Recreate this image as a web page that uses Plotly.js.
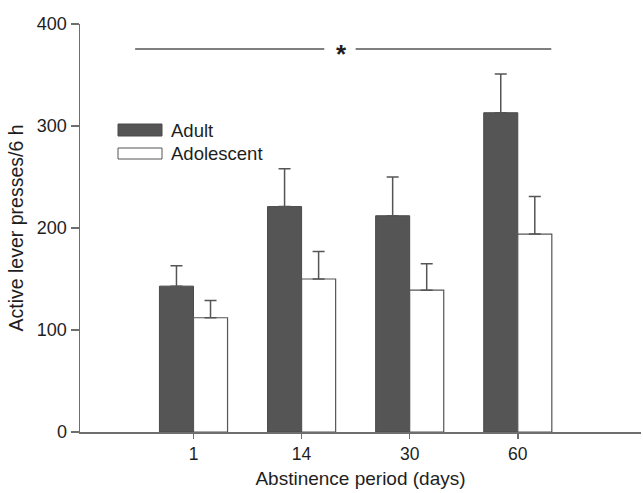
<!DOCTYPE html>
<html>
<head>
<meta charset="utf-8">
<script src="https://cdn.plot.ly/plotly-3.0.1.min.js"></script>
<style>html,body{margin:0;padding:0;background:#fff;}#chart{width:643px;height:493px;}</style>
</head>
<body>
<div id="chart"></div>
<script>
const categories = ["1", "14", "30", "60"];
const adultValues = [143, 221, 212, 313];
const adultErrors = [20, 37, 38, 38];
const adolescentValues = [112, 150, 139, 194];
const adolescentErrors = [17, 27, 26, 37];
const seriesNames = ["Adult", "Adolescent"];
const yTicks = [0, 100, 200, 300, 400];

const axisColor = "#6e6e6e";
const dark = "#555555";
const font = "Liberation Sans, Arial, sans-serif";
const txt = "#1e1e1e";

const traces = [
  {
    type: "bar", name: seriesNames[0], x: categories, y: adultValues,
    marker: {color: dark, line: {color: "#4a4a4a", width: 1}},
    error_y: {type: "data", symmetric: false, array: adultErrors, arrayminus: adultErrors.map(() => 0), color: "#555", thickness: 1.5, width: 6}
  },
  {
    type: "bar", name: seriesNames[1], x: categories, y: adolescentValues,
    marker: {color: "#ffffff", line: {color: "#555", width: 1.2}},
    error_y: {type: "data", symmetric: false, array: adolescentErrors, arrayminus: adolescentErrors.map(() => 0), color: "#555", thickness: 1.5, width: 6}
  }
];

const layout = {
  width: 643, height: 493,
  margin: {l: 80, r: 2, t: 24, b: 61},
  paper_bgcolor: "#fff", plot_bgcolor: "#fff",
  showlegend: false,
  barmode: "group", bargap: 0.37, bargroupgap: 0,
  font: {family: font, size: 17, color: txt},
  xaxis: {
    type: "category", range: [-1.05, 4.14],
    showline: true, linecolor: axisColor, linewidth: 1.5,
    ticks: "outside", ticklen: 5, tickwidth: 1.5, tickcolor: axisColor,
    showgrid: false, zeroline: false,
    tickfont: {family: font, size: 17.5, color: txt},
    title: {text: "Abstinence period (days)", font: {family: font, size: 19, color: txt}, standoff: 9}
  },
  yaxis: {
    range: [0, 400], tickvals: yTicks,
    showline: true, linecolor: axisColor, linewidth: 1.5,
    ticks: "outside", ticklen: 8, tickwidth: 1.5, tickcolor: axisColor,
    showgrid: false, zeroline: false,
    tickfont: {family: font, size: 18, color: txt},
    title: {text: "Active lever presses/6 h", font: {family: font, size: 19.5, color: txt}, standoff: 8}
  },
  shapes: [
    {type: "line", xref: "x", yref: "y", x0: -0.54, x1: 1.21, y0: 375.5, y1: 375.5, line: {color: "#555", width: 1.3}},
    {type: "line", xref: "x", yref: "y", x0: 1.50, x1: 3.31, y0: 375.5, y1: 375.5, line: {color: "#555", width: 1.3}},
    {type: "rect", xref: "paper", yref: "paper", x0: (118-80)/561, x1: (162-80)/561, y0: (432-136)/408, y1: (432-124)/408, fillcolor: dark, line: {color: "#4a4a4a", width: 1}},
    {type: "rect", xref: "paper", yref: "paper", x0: (118-80)/561, x1: (162-80)/561, y0: (432-159)/408, y1: (432-148)/408, fillcolor: "#fff", line: {color: "#555", width: 1}}
  ],
  annotations: [
    {xref: "x", yref: "y", x: 1.37, y: 375.5, text: "<b>*</b>", showarrow: false, font: {family: font, size: 26, color: txt}, yshift: -5},
    {xref: "paper", yref: "paper", x: (169-80)/561, y: (432-130.5)/408, xanchor: "left", yanchor: "middle", text: seriesNames[0], showarrow: false, font: {family: font, size: 18.5, color: txt}},
    {xref: "paper", yref: "paper", x: (169-80)/561, y: (432-153.5)/408, xanchor: "left", yanchor: "middle", text: seriesNames[1], showarrow: false, font: {family: font, size: 18.5, color: txt}}
  ]
};

Plotly.newPlot("chart", traces, layout, {displayModeBar: false, staticPlot: true});
</script>
</body>
</html>
